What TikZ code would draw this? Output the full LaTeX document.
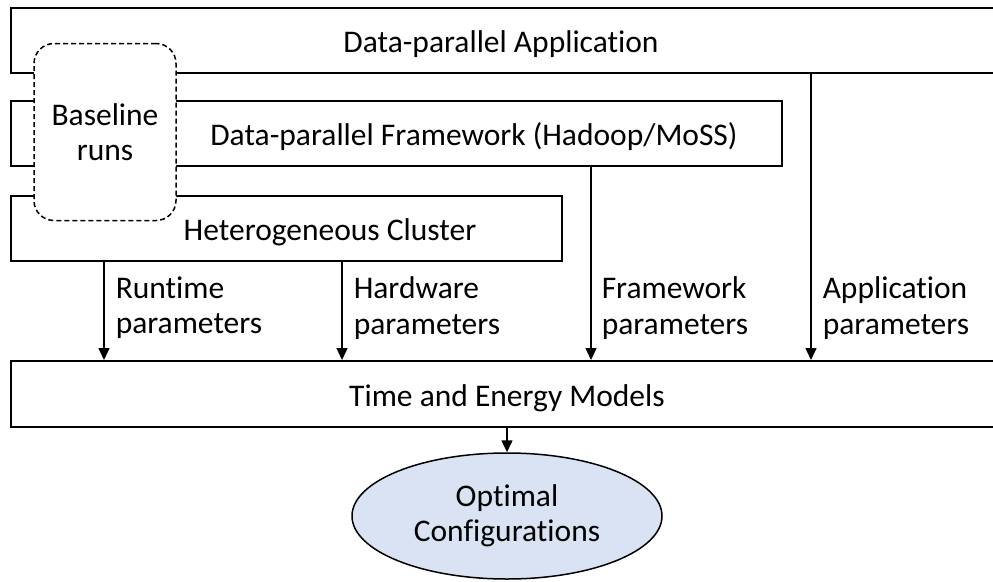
\documentclass[tikz,border=0pt]{standalone}
\usepackage{fontspec}
\setmainfont{Carlito}[RawFeature=-liga]
\usetikzlibrary{arrows.meta, shapes.geometric, positioning}
\definecolor{optfill}{HTML}{DAE3F3}

\begin{document}
\begin{tikzpicture}[x=1pt, y=-1pt, line width=1.5pt,
    font=\fontsize{31.5}{35.5}\selectfont,
    layer/.style={draw, rectangle, minimum height=\lh pt, inner sep=0pt, anchor=north west},
    flow/.style={-{Triangle[width=11pt, length=12pt]}},
    param/.style={align=left, anchor=north west, inner sep=0pt}]
    \def\lh{65}
    \useasboundingbox (0,0) rectangle (993,581);
    \clip (0,0) rectangle (993,581);
    % layers of the stack
    \node[layer, minimum width=1000pt] (app) at (10,7) {};
    \node[layer, minimum width=771pt] (fw) at (10,100) {};
    \node[layer, minimum width=551pt] (cluster) at (10,195) {};
    \node[layer, minimum width=1000pt, minimum height=66pt] (models) at (10,360) {};
    \node (apptxt) at (501,44) {Data-parallel Application};
    \node (fwtxt) at (474,137) {Data-parallel Framework (Hadoop/MoSS)};
    \node (cltxt) at (330,232) {Heterogeneous Cluster};
    \node (modtxt) at (507,398) {Time and Energy Models};
    % baseline runs on top
    \node[draw, dash pattern=on 5pt off 3pt, rounded corners=20pt, fill=white, align=center,
          minimum width=142pt, minimum height=177pt] (base) at (105,132) {Baseline\\runs};
    % result
    \node[ellipse, draw, fill=optfill, align=center, inner sep=0pt,
          minimum width=310pt, minimum height=126pt] (opt) at (507,516) {Optimal\\Configurations};
    % parameter arrows
    \coordinate (rt) at (104,0);
    \coordinate (hw) at (342,0);
    \coordinate (fr) at (591,0);
    \coordinate (ap) at (811,0);
    \draw[flow] (cluster.south -| rt) -- (models.north -| rt);
    \draw[flow] (cluster.south -| hw) -- (models.north -| hw);
    \draw[flow] (fw.south -| fr) -- (models.north -| fr);
    \draw[flow] (app.south -| ap) -- (models.north -| ap);
    \draw[flow] (models.south -| opt.north) -- (opt.north);
    \node[param] (rtlbl) at (115,276) {Runtime\\parameters};
    \node[param] (hwlbl) at (353,276) {Hardware\\parameters};
    \node[param] (frlbl) at (601,276) {Framework\\parameters};
    \node[param] (aplbl) at (822,276) {Application\\parameters};
\end{tikzpicture}
\end{document}
